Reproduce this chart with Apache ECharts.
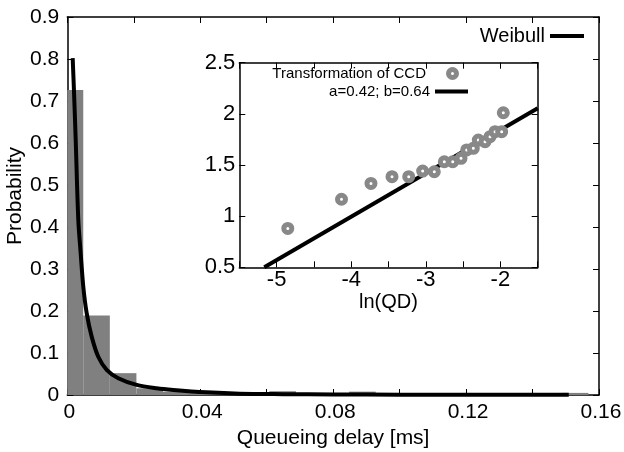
<!DOCTYPE html>
<html>
<head>
<meta charset="utf-8">
<script src="https://cdn.jsdelivr.net/npm/echarts@6/dist/echarts.min.js"></script>
<style>html,body{margin:0;padding:0;background:#fff}#c{width:624px;height:452px}</style>
</head>
<body>
<div id="c"></div>
<script>
// ---- Histogram (bin centres in ms, probabilities) ----
const binCenters = [0.0008, 0.0088, 0.0168, 0.0248, 0.0328, 0.0408, 0.0488, 0.0568, 0.0648, 0.0728, 0.0808, 0.0888, 0.0968, 0.1048, 0.1128, 0.1208, 0.1288, 0.1368, 0.1448, 0.1528];
const binProb    = [0.726,  0.189,  0.052,  0.016,  0.008,  0.005,  0.003,  0.003,  0.009,  0.002,  0.003,  0.008,  0.002,  0.002,  0.002,  0.002,  0.002,  0.002,  0.002,  0.005];
const binWidth = 0.008;

// ---- Weibull fit curve ----
const weibullX = [0.00162, 0.0020, 0.00253, 0.00331, 0.00403, 0.00481, 0.00583, 0.00734, 0.00932, 0.01185, 0.01534, 0.0209, 0.0269, 0.0319, 0.0419, 0.0519, 0.065, 0.08, 0.10, 0.12, 0.14, 0.1509];
const weibullY = [0.802,   0.726,  0.607,   0.417,   0.337,   0.258,   0.195,   0.139,   0.091,   0.060,   0.040,   0.024,  0.016,  0.012,  0.0064, 0.0031, 0.0020, 0.0013, 0.0008, 0.0005, 0.0004, 0.0003];

// ---- Inset: transformation of CCD ----
const lnQD   = [-4.85, -4.13, -3.735, -3.453, -3.229, -3.042, -2.886, -2.752, -2.639, -2.528, -2.452, -2.363, -2.296, -2.206, -2.139, -2.072, -1.983, -1.961];
const transY = [0.88,  1.165, 1.32,   1.386,  1.386,  1.441,  1.434,  1.532,  1.532,  1.565,  1.647,  1.663,  1.744,  1.728,  1.777,  1.826,  1.826,  2.011];
const fitX = [-5.165, -1.5];
const fitY = [0.5, 2.054];

// ---- Tick settings ----
const mainXTicks = { min: 0, max: 0.16, interval: 0.02 };
const mainYTicks = { min: 0, max: 0.9, interval: 0.1 };
const insetXTicks = { min: -5.5, max: -1.5, interval: 0.5 };
const insetYTicks = { min: 0.5, max: 2.5, interval: 0.5 };

const FONT = 'Liberation Sans';
const chart = echarts.init(document.getElementById('c'), null, { renderer: 'canvas' });

const axisLineStyle = { show: true, onZero: false, lineStyle: { color: '#000', width: 1.5 } };
const tickStyle = { show: true, inside: true, length: 6, lineStyle: { color: '#000', width: 1 } };
const pointStyle = { color: '#fff', borderColor: '#888', borderWidth: 5, opacity: 1 };

function fmtNum(v) { return String(+(+v).toFixed(4)); }

const histData = binCenters.map((c, i) => [c, binProb[i]]);
const weibullData = weibullX.map((x, i) => [x, weibullY[i]]);
const ccdData = lnQD.map((x, i) => [x, transY[i]]);
const fitData = fitX.map((x, i) => [x, fitY[i]]);

const option = {
  animation: false,
  backgroundColor: '#fff',
  textStyle: { fontFamily: FONT, color: '#000' },
  grid: [
    { left: 67.3, right: 25, top: 17, bottom: 57, containLabel: false, outerBoundsMode: 'none' },
    { left: 239.3, right: 86.3, top: 62.7, bottom: 184.7, containLabel: false, outerBoundsMode: 'none',
      show: true, backgroundColor: '#fff', borderWidth: 0 }
  ],
  legend: [
    { data: [{ name: 'Weibull', icon: 'rect' }], right: 40, top: 26, padding: 0, align: 'right',
      itemWidth: 34, itemHeight: 4, itemGap: 8,
      textStyle: { fontFamily: FONT, fontSize: 20, color: '#000' } },
    { data: [{ name: 'Transformation of CCD', icon: 'circle', itemStyle: pointStyle }], right: 165, top: 66, padding: 0,
      align: 'right', itemWidth: 33, itemHeight: 8,
      textStyle: { fontFamily: FONT, fontSize: 15, color: '#000', padding: [0, 5, 0, 0] } },
    { data: [{ name: 'a=0.42; b=0.64', icon: 'rect' }], right: 156, top: 84, padding: 0, align: 'right',
      itemWidth: 33, itemHeight: 4,
      textStyle: { fontFamily: FONT, fontSize: 15, color: '#000' } }
  ],
  xAxis: [
    { type: 'value', gridIndex: 0, position: 'bottom', ...mainXTicks,
      axisLine: axisLineStyle, axisTick: tickStyle, splitLine: { show: false },
      axisLabel: { margin: 7, fontFamily: FONT, fontSize: 21, color: '#000', padding: [0, 0, 0, 4],
        formatter: v => (Math.round(v / 0.02) % 2 === 0 ? fmtNum(v) : '') },
      name: 'Queueing delay [ms]', nameLocation: 'middle', nameGap: 24,
      nameTextStyle: { fontFamily: FONT, fontSize: 21, color: '#000' } },
    { type: 'value', gridIndex: 0, position: 'top', ...mainXTicks,
      axisLine: axisLineStyle, axisTick: tickStyle, splitLine: { show: false }, axisLabel: { show: false } },
    { type: 'value', gridIndex: 1, position: 'bottom', ...insetXTicks,
      axisLine: axisLineStyle, axisTick: tickStyle, splitLine: { show: false },
      axisLabel: { margin: 2, fontFamily: FONT, fontSize: 22, color: '#000',
        formatter: v => (Math.abs(v - Math.round(v)) < 1e-6 ? fmtNum(v) : '') },
      name: 'ln(QD)', nameLocation: 'middle', nameGap: 10,
      nameTextStyle: { fontFamily: FONT, fontSize: 20, color: '#000' } },
    { type: 'value', gridIndex: 1, position: 'top', ...insetXTicks,
      axisLine: axisLineStyle, axisTick: tickStyle, splitLine: { show: false }, axisLabel: { show: false } }
  ],
  yAxis: [
    { type: 'value', gridIndex: 0, position: 'left', ...mainYTicks,
      axisLine: axisLineStyle, axisTick: tickStyle, splitLine: { show: false },
      axisLabel: { margin: 8, fontFamily: FONT, fontSize: 21, color: '#000', formatter: v => fmtNum(v) },
      name: 'Probability', nameLocation: 'middle', nameGap: 42, nameRotate: 90, nameMoveOverlap: false,
      nameTextStyle: { fontFamily: FONT, fontSize: 21, color: '#000', padding: [0, 0, 0, 20] } },
    { type: 'value', gridIndex: 0, position: 'right', ...mainYTicks,
      axisLine: axisLineStyle, axisTick: tickStyle, splitLine: { show: false }, axisLabel: { show: false } },
    { type: 'value', gridIndex: 1, position: 'left', ...insetYTicks,
      axisLine: axisLineStyle, axisTick: tickStyle, splitLine: { show: false },
      axisLabel: { margin: 4, fontFamily: FONT, fontSize: 22, color: '#000', formatter: v => fmtNum(v) } },
    { type: 'value', gridIndex: 1, position: 'right', ...insetYTicks,
      axisLine: axisLineStyle, axisTick: tickStyle, splitLine: { show: false }, axisLabel: { show: false } }
  ],
  series: [
    { name: 'Histogram', type: 'custom', xAxisIndex: 0, yAxisIndex: 0, data: histData, clip: true, z: 1,
      renderItem: function (params, api) {
        const c = api.value(0), h = api.value(1);
        const p0 = api.coord([c - binWidth / 2, h]);
        const p1 = api.coord([c + binWidth / 2, 0]);
        const shape = echarts.graphic.clipRectByRect(
          { x: p0[0], y: p0[1], width: p1[0] - p0[0], height: p1[1] - p0[1] },
          { x: params.coordSys.x, y: params.coordSys.y, width: params.coordSys.width, height: params.coordSys.height });
        return shape && { type: 'rect', shape: shape, style: { fill: '#808080' } };
      } },
    { name: 'Weibull', type: 'line', xAxisIndex: 0, yAxisIndex: 0, data: weibullData, symbol: 'none',
      smooth: 0.3, z: 3, lineStyle: { color: '#000', width: 4 }, itemStyle: { color: '#000' } },
    { name: 'a=0.42; b=0.64', type: 'line', xAxisIndex: 2, yAxisIndex: 2, data: fitData, symbol: 'none',
      z: 4, clip: true, lineStyle: { color: '#000', width: 4 }, itemStyle: { color: '#000' } },
    { name: 'Transformation of CCD', type: 'scatter', xAxisIndex: 2, yAxisIndex: 2, data: ccdData,
      symbol: 'circle', symbolSize: 8, z: 5, itemStyle: pointStyle }
  ]
};
chart.setOption(option);
</script>
</body>
</html>
